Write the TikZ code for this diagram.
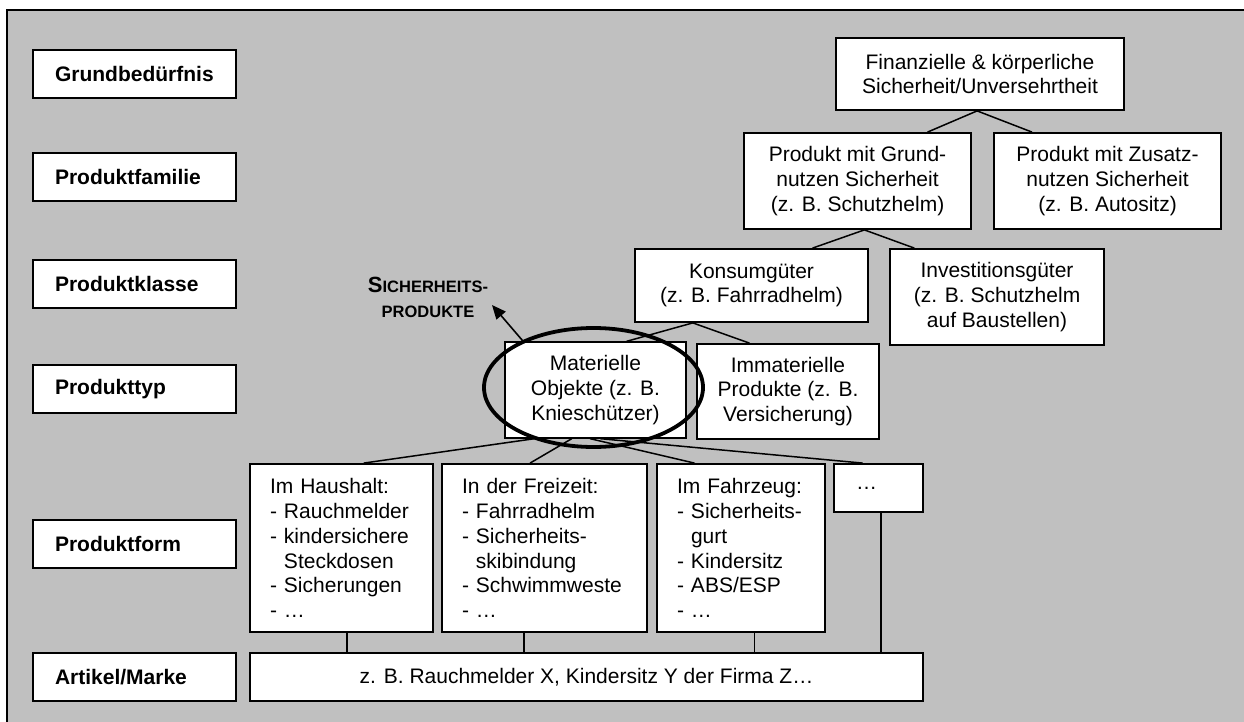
\documentclass[tikz,border=0pt]{standalone}
\usepackage{fontspec}
\setmainfont{Liberation Sans}
\usetikzlibrary{calc,arrows.meta}
\definecolor{bggray}{HTML}{C0C0C0}
\begin{document}
\begin{tikzpicture}[x=1pt,y=-1pt,
  txt/.style={font=\fontsize{21}{24.8}\selectfont},
  box/.style={txt,draw=black,line width=1.8pt,fill=white,inner sep=0pt,align=center},
  lbl/.style={box,font=\fontsize{21}{24.8}\selectfont\bfseries,minimum width=203pt,minimum height=48pt,text width=159pt,align=left,inner xsep=22pt},
  listbox/.style={box,align=left,inner xsep=20pt,minimum height=168pt},
  con/.style={line width=1.5pt},
]
\useasboundingbox (0,0) rectangle (1244,722);
\fill[bggray] (7,10) rectangle (1244,722);
\draw[line width=2pt] (7,722) -- (7,10) -- (1244,10);

% level labels
\node[lbl] (l1) at (134.5,74) {Grundbedürfnis};
\node[lbl] (l2) at (134.5,177) {Produktfamilie};
\node[lbl] (l3) at (134.5,284) {Produktklasse};
\node[lbl] (l4) at (134.5,389) {Produkttyp};
\node[lbl] (l5) at (134.5,544) {Produktform};
\node[lbl] (l6) at (134.5,677) {Artikel/Marke};

% hierarchy
\node[box,minimum width=288pt,minimum height=72pt] (fin) at (980,74) {Finanzielle \& körperliche\\Sicherheit/Unversehrtheit};
\node[box,minimum width=227pt,minimum height=96pt] (grund) at (857.5,181) {Produkt mit Grund-\\nutzen Sicherheit\\(z. B. Schutzhelm)};
\node[box,minimum width=227pt,minimum height=96pt] (zus) at (1107.5,181) {Produkt mit Zusatz-\\nutzen Sicherheit\\(z. B. Autositz)};
\node[box,minimum width=233pt,minimum height=73pt] (kons) at (751.5,285.5) {Konsumgüter\\(z. B. Fahrradhelm)};
\node[box,minimum width=214pt,minimum height=96pt] (inv) at (997,297) {Investitionsgüter\\(z. B. Schutzhelm\\auf Baustellen)};
\node[box,line width=1.3pt,minimum width=181pt,minimum height=96pt] (mat) at (595.5,390) {Materielle\\Objekte (z. B.\\Knieschützer)};
\node[box,minimum width=182pt,minimum height=95pt] (imm) at (788,391.5) {Immaterielle\\Produkte (z. B.\\Versicherung)};

\node[listbox,text width=143pt] (haus) at (341.5,548) {Im Haushalt:\\-~Rauchmelder\\-~kindersichere\\\hphantom{-~}Steckdosen\\-~Sicherungen\\-~…};
\node[listbox,text width=165pt] (frei) at (544.5,548) {In der Freizeit:\\-~Fahrradhelm\\-~Sicherheits-\\\hphantom{-~}skibindung\\-~Schwimmweste\\-~…};
\node[listbox,text width=128pt] (fahr) at (741,548) {Im Fahrzeug:\\-~Sicherheits-\\\hphantom{-~}gurt\\-~Kindersitz\\-~ABS/ESP\\-~…};
\node[box,align=left,inner xsep=22pt,text width=45pt,minimum height=48pt] (dots) at (878.5,488) {…};
\node[box,minimum width=673pt,minimum height=48pt] (art) at (586.5,677) {z. B. Rauchmelder X, Kindersitz Y der Firma Z…};

% connectors
\draw[con] ($(fin.south west)!0.49!(fin.south east)$) -- ($(grund.north west)!0.806!(grund.north east)$);
\draw[con] ($(fin.south west)!0.49!(fin.south east)$) -- ($(zus.north west)!0.17!(zus.north east)$);
\draw[con] ($(grund.south west)!0.53!(grund.south east)$) -- ($(kons.north west)!0.76!(kons.north east)$);
\draw[con] ($(grund.south west)!0.53!(grund.south east)$) -- ($(inv.north west)!0.117!(inv.north east)$);
\draw[con] ($(kons.south west)!0.25!(kons.south east)$) -- ($(mat.north west)!0.67!(mat.north east)$);
\draw[con] ($(kons.south west)!0.25!(kons.south east)$) -- ($(imm.north west)!0.29!(imm.north east)$);
\draw[con] ($(mat.south west)!0.166!(mat.south east)$) -- ($(haus.north west)!0.62!(haus.north east)$);
\draw[con] ($(mat.south west)!0.37!(mat.south east)$) -- ($(frei.north west)!0.43!(frei.north east)$);
\draw[con] ($(mat.south west)!0.47!(mat.south east)$) -- ($(fahr.north west)!0.226!(fahr.north east)$);
\draw[con] ($(mat.south west)!0.525!(mat.south east)$) -- ($(dots.north west)!0.326!(dots.north east)$);

\path ($(haus.south west)!0.53!(haus.south east)$) coordinate (vh);
\path ($(frei.south west)!0.40!(frei.south east)$) coordinate (vf);
\path ($(fahr.south west)!0.58!(fahr.south east)$) coordinate (vz);
\path ($(dots.south west)!0.53!(dots.south east)$) coordinate (vd);
\draw[con] (vh) -- (vh |- art.north);
\draw[con] (vf) -- (vf |- art.north);
\draw[con] (vz) -- (vz |- art.north);
\draw[con] (vd) -- (vd |- art.north);

% highlight
\draw[line width=3.8pt] ($(mat.center)+(-2,-2.5)$) ellipse [x radius=109.5, y radius=59.5];
\node[font=\fontsize{16.5}{25}\selectfont\bfseries,align=center,inner sep=0pt] (sp) at (428,297)
  {{\fontsize{22}{25}\selectfont S}ICHERHEITS-\\PRODUKTE};
\coordinate (atail) at ($(mat.north west)+(18,-1)$);
\coordinate (atip) at (492,305);
\draw[line width=1.6pt,-{Triangle[length=14pt,width=12pt]}] (atail) -- (atip);
\end{tikzpicture}
\end{document}
